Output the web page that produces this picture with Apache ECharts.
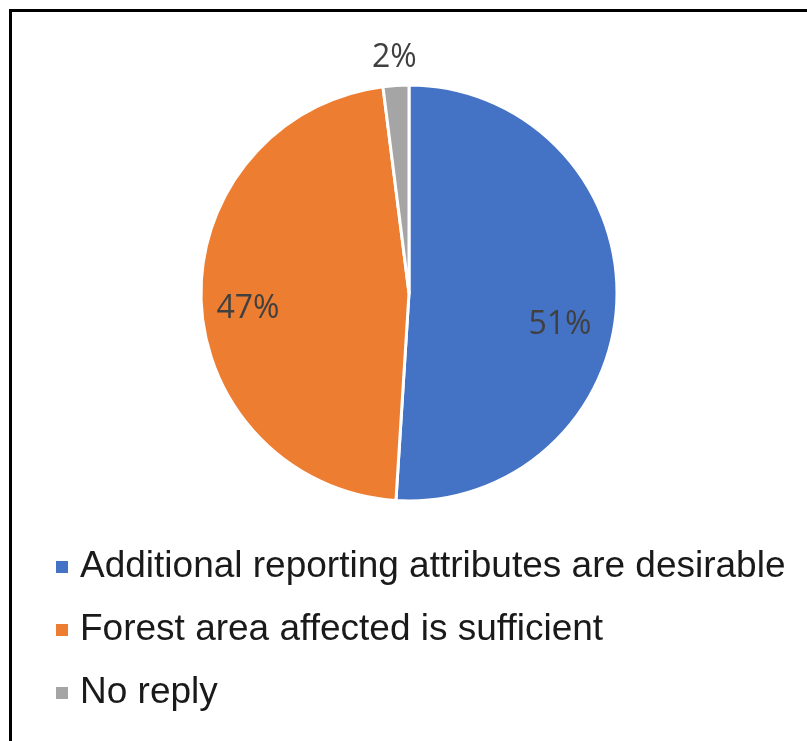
<!DOCTYPE html>
<html>
<head>
<meta charset="utf-8">
<script src="https://cdn.jsdelivr.net/npm/echarts@6/dist/echarts.min.js"></script>
<style>
  html, body { margin: 0; padding: 0; background: #ffffff; }
  #frame { position: absolute; left: 9px; top: 9px; width: 820px; height: 760px;
           border-left: 3px solid #000; border-top: 3px solid #000; box-sizing: border-box; }
  #chart { position: absolute; left: 0; top: 0; width: 807px; height: 741px; }
</style>
</head>
<body>
<div id="frame"></div>
<div id="chart"></div>
<script>
const categories = [
  'Additional reporting attributes are desirable',
  'Forest area affected is sufficient',
  'No reply'
];
const shares = [51, 47, 2];
const sliceColors = ['#4472C4', '#ED7D31', '#A5A5A5'];

const labelOffsets = [[44, 29], [-54, 13], [-8, -128]];

const chart = echarts.init(document.getElementById('chart'), null, { renderer: 'canvas' });
chart.setOption({
  backgroundColor: 'transparent',
  animation: false,
  legend: {
    orient: 'vertical',
    left: 49,
    top: 542,
    itemWidth: 14,
    itemHeight: 14,
    itemGap: 23,
    icon: 'rect',
    textStyle: {
      fontFamily: '"Liberation Sans", Arial, sans-serif',
      fontSize: 37,
      lineHeight: 40,
      color: '#1a1a1a',
      padding: [0, 0, 0, 6]
    },
    data: categories
  },
  series: [{
    type: 'pie',
    center: [409, 293],
    radius: [0, 208],
    startAngle: 90,
    clockwise: true,
    avoidLabelOverlap: false,
    itemStyle: { borderColor: '#ffffff', borderWidth: 3 },
    label: {
      show: true,
      position: 'inside',
      formatter: '{c}%',
      fontFamily: '"Open Sans", sans-serif',
      fontSize: 32,
      color: '#404040'
    },
    labelLine: { show: false },
    labelLayout: function (p) {
      const o = labelOffsets[p.dataIndex];
      return { dx: o[0], dy: o[1] };
    },
    emphasis: { disabled: true },
    data: categories.map((name, i) => ({
      name: name,
      value: shares[i],
      itemStyle: { color: sliceColors[i] }
    }))
  }]
});
</script>
</body>
</html>
